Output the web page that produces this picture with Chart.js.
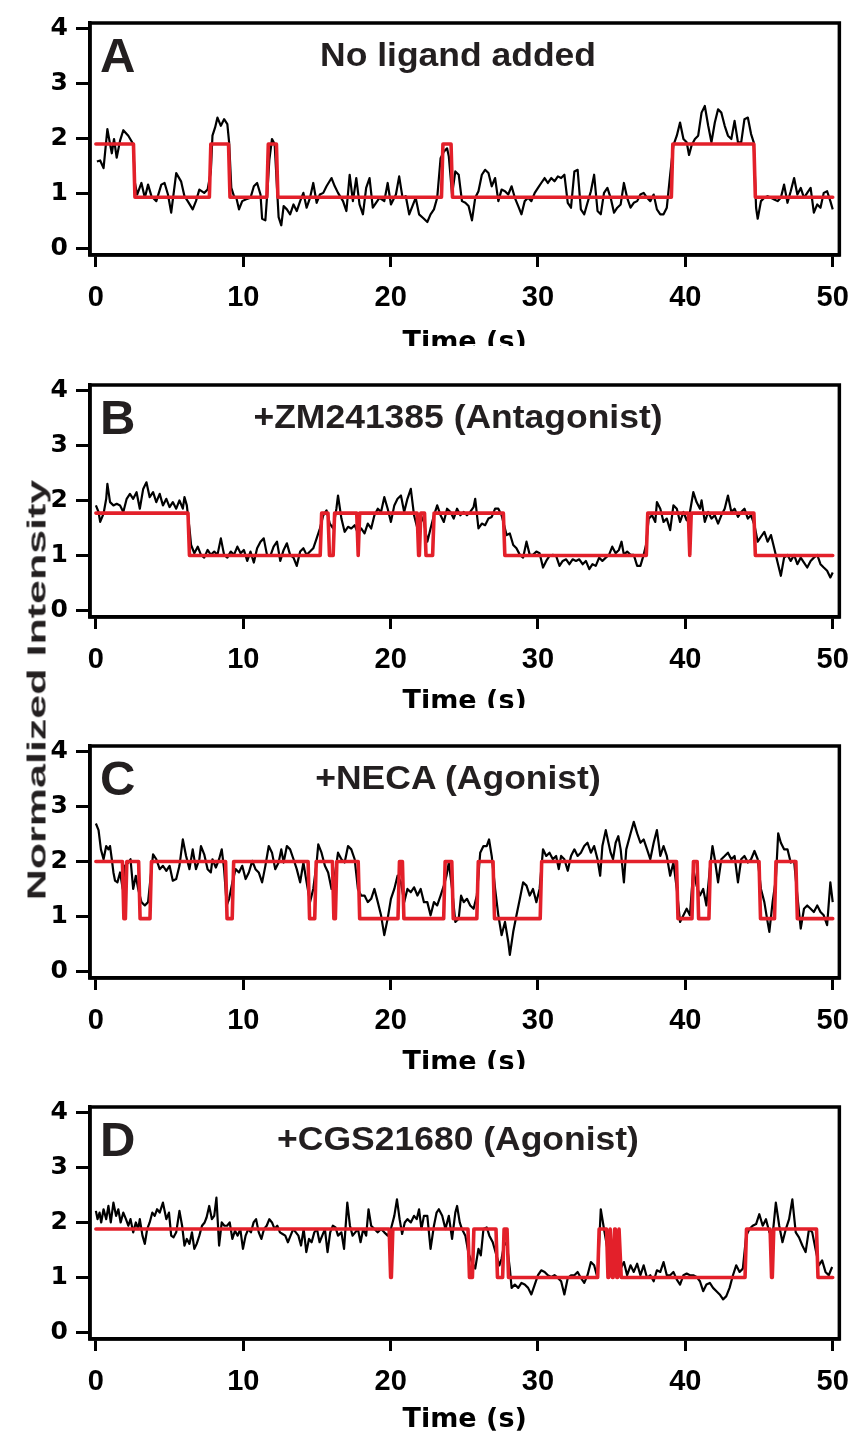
<!DOCTYPE html>
<html>
<head>
<meta charset="utf-8">
<script src="https://cdn.jsdelivr.net/npm/chart.js@4.4.1/dist/chart.umd.min.js"></script>
<style>
  html, body { margin: 0; padding: 0; background: #fff; overflow: hidden; }
  #wrap { position: relative; width: 863px; height: 1437px; overflow: hidden; background: #fff; }
  .panel { position: absolute; left: 0; width: 863px; overflow: hidden; }
  .panel canvas { position: absolute; left: 0; top: 0; }
  .letter { position: absolute; left: 100px; top: 31px; font-family: 'Liberation Sans', Arial, sans-serif; font-weight: bold; font-size: 49px; line-height: 1; color: #231f20; white-space: nowrap; }
  .title { position: absolute; left: 458px; top: 38px; font-family: 'Liberation Sans', Arial, sans-serif; font-weight: bold; font-size: 33px; line-height: 1; color: #231f20; white-space: nowrap; transform: translateX(-50%) scaleX(1.075); }
  #ytitle { position: absolute; left: 37px; top: 690px; font-family: 'Liberation Sans', Arial, sans-serif; font-weight: bold; font-size: 25px; line-height: 1; color: #231f20; white-space: nowrap; transform: translate(-50%, -50%) rotate(-90deg) scaleX(1.72); }
</style>
</head>
<body>
<div id="wrap"></div>
<script>
// ---------------- DATA ----------------
const xTickValues = [0, 10, 20, 30, 40, 50];
const yTickValues = [0, 1, 2, 3, 4];
const panelLetters = ['A', 'B', 'C', 'D'];
const panelTitles = ['No ligand added', '+ZM241385 (Antagonist)', '+NECA (Agonist)', '+CGS21680 (Agonist)'];
const xAxisTitle = 'Time (s)';
const yAxisTitle = 'Normalized Intensity';

// Raw intensity traces: [time (s), normalized intensity]
const traceA = [[0.07,1.58],[0.29,1.60],[0.52,1.46],[0.78,2.17],[0.96,1.90],[1.08,1.73],[1.23,1.99],[1.41,1.65],[1.64,1.96],[1.86,2.15],[2.20,2.05],[2.42,1.95],[2.53,1.90],[2.65,1.19],[2.80,0.98],[3.09,1.19],[3.32,0.92],[3.54,1.16],[3.77,0.95],[4.10,0.86],[4.44,1.16],[4.66,1.19],[4.89,0.98],[5.11,0.65],[5.45,1.37],[5.78,1.22],[6.01,0.95],[6.23,0.86],[6.57,0.71],[6.79,0.86],[7.02,1.07],[7.35,1.01],[7.58,1.07],[7.80,1.40],[7.91,2.05],[8.09,2.20],[8.25,2.38],[8.48,2.23],[8.70,2.35],[8.92,2.26],[9.04,1.93],[9.19,1.10],[9.37,0.95],[9.53,0.92],[9.71,0.71],[9.93,0.86],[10.16,0.89],[10.49,0.92],[10.72,1.13],[10.94,1.19],[11.17,0.98],[11.28,0.54],[11.50,0.51],[11.64,1.04],[11.77,1.61],[11.95,1.99],[12.13,1.90],[12.29,1.10],[12.40,0.57],[12.58,0.42],[12.74,0.77],[12.96,0.71],[13.18,0.62],[13.41,0.80],[13.63,0.68],[13.86,0.86],[14.08,1.01],[14.30,0.74],[14.53,0.92],[14.75,1.19],[14.98,0.83],[15.20,0.98],[15.43,1.01],[15.65,1.13],[15.99,1.28],[16.21,1.13],[16.43,1.01],[16.77,0.86],[17.00,0.68],[17.22,1.34],[17.44,0.86],[17.67,1.28],[17.89,0.80],[18.12,0.62],[18.34,1.10],[18.57,1.28],[18.79,0.74],[19.01,0.83],[19.24,0.92],[19.57,0.86],[19.80,1.19],[20.02,0.80],[20.36,0.98],[20.58,1.31],[20.81,0.92],[21.03,0.95],[21.26,0.62],[21.48,0.77],[21.70,0.92],[21.93,0.62],[22.26,0.54],[22.49,0.48],[22.71,0.62],[22.94,0.71],[23.16,0.92],[23.39,1.64],[23.61,1.76],[23.83,1.82],[23.95,1.67],[24.17,0.98],[24.39,1.40],[24.62,1.34],[24.84,0.86],[25.07,0.83],[25.29,0.77],[25.52,0.51],[25.74,0.92],[25.96,1.04],[26.19,1.34],[26.41,1.43],[26.64,1.37],[26.86,1.13],[27.09,1.28],[27.31,0.86],[27.53,1.07],[27.76,1.04],[27.98,0.98],[28.21,1.13],[28.43,0.92],[28.66,0.77],[28.88,0.62],[29.10,0.86],[29.33,0.92],[29.55,0.86],[29.78,1.01],[30.00,1.10],[30.22,1.19],[30.45,1.28],[30.67,1.19],[30.90,1.28],[31.12,1.22],[31.35,1.31],[31.57,1.28],[31.79,1.34],[32.02,0.83],[32.24,0.74],[32.47,1.40],[32.69,1.43],[32.91,0.71],[33.14,0.62],[33.36,0.83],[33.59,1.04],[33.81,1.34],[34.04,0.68],[34.26,0.62],[34.48,1.01],[34.71,1.10],[34.93,0.92],[35.16,0.65],[35.38,0.74],[35.61,0.80],[35.83,1.19],[36.05,0.92],[36.28,0.74],[36.50,0.83],[36.73,0.86],[36.95,0.98],[37.17,1.01],[37.40,0.92],[37.62,0.86],[37.85,0.98],[38.07,0.71],[38.30,0.62],[38.52,0.62],[38.74,0.74],[38.97,1.34],[39.19,1.88],[39.42,2.05],[39.64,2.29],[39.87,1.99],[40.09,1.93],[40.25,1.70],[40.43,1.88],[40.65,1.99],[40.87,2.05],[41.10,2.47],[41.32,2.59],[41.55,2.23],[41.77,1.93],[42.00,2.29],[42.22,2.53],[42.44,2.47],[42.67,2.23],[42.89,2.05],[43.12,1.99],[43.34,2.32],[43.57,1.93],[43.79,1.93],[44.01,2.35],[44.24,2.38],[44.46,2.08],[44.64,1.93],[44.80,0.74],[44.91,0.54],[45.13,0.86],[45.36,0.92],[45.58,0.95],[45.81,0.92],[46.03,0.89],[46.26,0.86],[46.48,0.92],[46.70,1.16],[46.93,0.83],[47.15,1.04],[47.38,1.28],[47.60,0.98],[47.83,1.10],[48.05,0.92],[48.27,1.01],[48.50,1.10],[48.72,0.65],[48.95,0.80],[49.17,0.74],[49.39,1.01],[49.62,1.04],[49.84,0.86],[50.00,0.71]];

const traceB = [[0.00,1.91],[0.18,1.79],[0.29,1.61],[0.52,1.76],[0.70,2.03],[0.78,2.30],[0.96,1.97],[1.19,1.91],[1.41,1.94],[1.64,1.91],[1.86,1.79],[2.09,2.03],[2.31,2.12],[2.53,2.03],[2.76,2.15],[2.98,1.85],[3.21,2.21],[3.43,2.33],[3.65,2.06],[3.88,2.15],[4.10,1.97],[4.33,2.12],[4.55,1.91],[4.78,2.03],[5.00,1.88],[5.22,1.97],[5.45,1.85],[5.67,2.00],[5.90,1.85],[6.01,2.06],[6.17,1.91],[6.35,1.49],[6.46,1.19],[6.68,1.04],[6.91,1.16],[7.13,1.01],[7.35,0.96],[7.58,1.10],[7.80,1.01],[8.03,1.07],[8.25,1.01],[8.48,1.31],[8.70,1.01],[8.92,0.96],[9.15,1.07],[9.37,1.01],[9.60,1.16],[9.82,1.04],[10.04,1.10],[10.27,0.90],[10.49,1.07],[10.72,0.87],[10.94,1.13],[11.17,1.25],[11.39,1.31],[11.61,1.01],[11.84,0.99],[12.06,1.16],[12.29,1.25],[12.51,0.90],[12.74,1.10],[12.96,1.22],[13.18,1.01],[13.41,0.96],[13.63,0.81],[13.86,1.07],[14.08,1.13],[14.30,1.01],[14.53,1.07],[14.75,1.13],[14.98,1.31],[15.20,1.49],[15.43,1.73],[15.65,1.82],[15.87,1.58],[16.10,1.49],[16.32,1.85],[16.43,2.09],[16.66,1.67],[16.88,1.43],[17.11,1.52],[17.33,1.49],[17.56,1.55],[17.78,1.40],[18.00,1.49],[18.23,1.40],[18.45,1.58],[18.68,1.49],[18.90,1.73],[19.13,1.85],[19.35,1.79],[19.57,2.06],[19.80,1.85],[20.02,1.61],[20.25,1.91],[20.47,2.03],[20.70,2.09],[20.92,1.79],[21.14,2.03],[21.37,2.21],[21.59,1.73],[21.82,1.49],[22.04,1.73],[22.26,1.61],[22.49,1.25],[22.71,1.49],[22.94,1.73],[23.16,1.91],[23.39,1.73],[23.61,1.61],[23.83,1.85],[24.06,1.79],[24.28,1.67],[24.51,1.85],[24.73,1.73],[24.96,1.79],[25.18,1.73],[25.40,1.79],[25.63,1.88],[25.74,2.03],[25.96,1.49],[26.19,1.58],[26.41,1.55],[26.64,1.67],[26.86,1.70],[27.09,1.85],[27.31,1.85],[27.53,1.73],[27.87,1.37],[28.09,1.40],[28.32,1.19],[28.54,1.13],[28.77,1.01],[28.99,0.96],[29.22,1.25],[29.44,1.01],[29.66,1.01],[29.89,1.07],[30.11,1.04],[30.34,0.78],[30.56,0.90],[30.78,0.99],[31.01,1.01],[31.23,0.99],[31.46,0.81],[31.68,0.90],[31.91,0.93],[32.13,0.84],[32.35,0.93],[32.58,0.90],[32.80,0.93],[33.03,0.84],[33.25,0.90],[33.48,0.75],[33.70,0.84],[33.92,0.81],[34.15,0.96],[34.37,0.90],[34.60,0.96],[34.82,1.01],[35.04,1.16],[35.27,1.04],[35.49,1.10],[35.67,1.25],[35.83,1.01],[36.05,1.07],[36.28,1.01],[36.50,1.01],[36.73,0.81],[36.95,0.81],[37.17,1.01],[37.33,1.19],[37.51,1.67],[37.74,1.73],[37.96,1.61],[38.07,1.97],[38.30,1.85],[38.52,1.61],[38.74,1.67],[38.97,1.46],[39.19,1.91],[39.42,1.85],[39.64,1.61],[39.87,1.79],[40.09,1.64],[40.31,1.79],[40.54,2.15],[40.76,1.97],[40.99,1.85],[41.10,2.00],[41.32,1.61],[41.55,1.79],[41.77,1.67],[42.00,1.73],[42.22,1.58],[42.44,1.73],[42.67,1.85],[42.89,2.09],[43.12,1.79],[43.34,1.85],[43.57,1.70],[43.79,1.79],[44.01,1.85],[44.24,1.67],[44.46,1.73],[44.69,1.55],[44.91,1.25],[45.13,1.34],[45.36,1.43],[45.58,1.25],[45.81,1.37],[46.03,1.13],[46.26,0.87],[46.48,0.63],[46.70,0.96],[46.93,1.01],[47.15,0.90],[47.38,1.01],[47.60,0.84],[47.83,0.96],[48.05,0.87],[48.27,0.78],[48.50,0.90],[48.72,0.96],[48.95,1.01],[49.17,0.84],[49.39,0.78],[49.62,0.72],[49.84,0.60],[50.00,0.69]];

const traceC = [[0.00,2.69],[0.18,2.57],[0.34,2.22],[0.52,2.04],[0.70,2.28],[0.85,2.22],[0.96,2.28],[1.08,2.04],[1.19,1.80],[1.30,1.65],[1.46,1.62],[1.64,1.80],[1.82,1.50],[1.97,1.92],[2.20,1.98],[2.35,2.04],[2.53,1.50],[2.71,1.74],[2.87,1.50],[3.09,1.26],[3.32,1.20],[3.54,1.26],[3.70,1.68],[3.88,2.13],[4.10,2.04],[4.33,1.86],[4.55,1.92],[4.78,1.83],[5.00,1.92],[5.22,1.65],[5.45,1.68],[5.67,1.92],[5.90,2.40],[6.12,2.10],[6.35,1.86],[6.57,2.22],[6.79,1.86],[7.02,2.04],[7.13,2.28],[7.35,2.13],[7.58,1.86],[7.80,1.80],[7.91,2.04],[8.14,1.89],[8.36,2.04],[8.54,2.22],[8.70,1.86],[8.88,1.20],[9.04,1.32],[9.26,1.62],[9.48,1.86],[9.71,1.80],[9.93,1.92],[10.16,1.68],[10.38,1.80],[10.61,2.01],[10.83,1.86],[11.05,1.80],[11.28,1.62],[11.50,1.92],[11.73,2.28],[11.95,2.16],[12.17,1.86],[12.40,1.98],[12.58,2.22],[12.74,1.98],[12.96,2.28],[13.18,2.22],[13.41,2.04],[13.63,1.86],[13.86,1.62],[14.08,1.98],[14.30,1.62],[14.53,1.26],[14.75,1.50],[14.98,1.98],[15.09,2.31],[15.31,2.16],[15.54,1.92],[15.76,1.80],[15.99,1.50],[16.21,1.74],[16.43,2.16],[16.66,2.04],[16.88,1.98],[17.11,2.28],[17.33,2.22],[17.56,2.04],[17.78,1.50],[18.00,1.38],[18.23,1.38],[18.45,1.26],[18.68,1.32],[18.90,1.50],[19.13,1.26],[19.35,1.02],[19.57,0.66],[19.80,0.96],[20.02,1.32],[20.25,1.50],[20.47,1.74],[20.70,1.62],[20.92,1.26],[21.14,1.50],[21.37,1.44],[21.59,1.53],[21.82,1.38],[22.04,1.50],[22.26,1.26],[22.49,1.26],[22.71,1.02],[22.94,1.26],[23.16,1.20],[23.39,1.38],[23.61,1.56],[23.79,1.74],[23.95,1.98],[24.17,1.50],[24.39,0.90],[24.62,0.96],[24.78,1.38],[24.96,1.26],[25.18,1.32],[25.40,1.20],[25.63,1.14],[25.85,1.38],[26.08,2.16],[26.30,2.28],[26.52,2.28],[26.68,2.40],[26.86,2.10],[27.09,1.50],[27.31,1.02],[27.53,0.66],[27.76,0.90],[27.98,0.54],[28.09,0.30],[28.32,0.72],[28.54,1.02],[28.77,1.32],[28.99,1.62],[29.22,1.56],[29.44,1.38],[29.66,1.50],[29.89,1.26],[30.11,1.50],[30.34,2.22],[30.56,2.10],[30.78,2.16],[31.01,2.04],[31.23,2.10],[31.41,1.86],[31.57,2.10],[31.79,2.04],[32.02,1.83],[32.24,2.10],[32.47,2.22],[32.69,2.10],[32.91,2.16],[33.14,2.28],[33.36,2.34],[33.59,2.16],[33.81,2.28],[34.04,2.04],[34.22,1.74],[34.37,2.28],[34.60,2.57],[34.78,2.34],[34.93,2.16],[35.09,2.04],[35.27,2.34],[35.45,2.46],[35.61,2.22],[35.83,1.62],[35.99,2.22],[36.28,2.51],[36.50,2.72],[36.73,2.51],[36.95,2.34],[37.17,2.40],[37.40,2.22],[37.62,2.04],[37.85,2.34],[38.07,2.57],[38.30,2.10],[38.52,2.28],[38.74,2.10],[38.97,1.74],[39.19,1.98],[39.42,1.50],[39.64,0.90],[39.87,1.02],[40.09,1.14],[40.31,1.02],[40.54,1.86],[40.76,1.56],[40.99,1.38],[41.21,1.50],[41.43,1.20],[41.66,1.86],[41.84,2.28],[42.00,2.04],[42.22,1.62],[42.44,2.04],[42.67,2.10],[42.89,2.16],[43.12,2.04],[43.34,2.10],[43.57,1.62],[43.79,2.04],[44.01,2.10],[44.24,1.98],[44.46,2.04],[44.69,2.19],[44.91,2.04],[45.13,1.50],[45.36,1.26],[45.58,0.90],[45.70,0.72],[45.92,1.26],[46.14,1.68],[46.30,2.51],[46.48,2.34],[46.70,2.22],[46.93,2.22],[47.15,1.98],[47.38,2.01],[47.60,1.38],[47.83,0.78],[48.05,1.14],[48.27,1.20],[48.50,1.14],[48.72,1.08],[48.95,1.20],[49.17,1.08],[49.39,1.02],[49.62,0.84],[49.84,1.62],[50.00,1.26]];

const traceD = [[0.00,2.21],[0.11,2.06],[0.25,2.18],[0.36,2.00],[0.52,2.24],[0.70,2.06],[0.85,2.30],[1.01,2.00],[1.19,2.36],[1.37,2.12],[1.52,2.24],[1.68,2.00],[1.86,2.18],[2.04,2.06],[2.20,1.94],[2.35,2.06],[2.53,1.82],[2.71,2.00],[2.87,1.88],[2.98,2.06],[3.16,1.76],[3.32,1.61],[3.48,1.88],[3.65,2.00],[3.83,2.18],[3.99,2.12],[4.15,2.24],[4.33,2.18],[4.55,2.36],[4.78,2.06],[4.96,2.18],[5.11,1.76],[5.27,1.73],[5.45,1.82],[5.67,2.21],[5.85,1.94],[6.01,1.58],[6.17,1.70],[6.35,1.61],[6.52,1.82],[6.68,1.52],[6.84,1.61],[7.02,1.76],[7.20,1.94],[7.38,2.00],[7.51,2.09],[7.69,2.30],[7.87,2.06],[8.03,2.12],[8.18,2.45],[8.36,1.58],[8.54,2.00],[8.72,1.94],[8.90,1.94],[9.08,2.00],[9.26,1.70],[9.44,1.85],[9.62,1.76],[9.80,1.88],[9.98,1.52],[10.16,1.76],[10.34,1.88],[10.52,1.82],[10.70,2.00],[10.87,2.06],[11.05,1.82],[11.23,1.70],[11.41,1.88],[11.59,1.94],[11.77,2.06],[11.95,2.00],[12.13,1.88],[12.31,1.94],[12.49,1.82],[12.67,1.79],[12.85,1.76],[13.03,1.64],[13.21,1.76],[13.39,1.88],[13.57,1.82],[13.74,1.76],[13.92,1.58],[14.10,1.88],[14.28,1.46],[14.46,1.70],[14.64,1.64],[14.82,1.82],[15.00,1.88],[15.18,1.64],[15.36,1.76],[15.54,1.88],[15.72,1.46],[15.90,1.82],[16.08,1.94],[16.26,1.91],[16.43,1.76],[16.66,1.82],[16.84,1.52],[17.06,2.36],[17.24,1.94],[17.42,1.76],[17.60,1.82],[17.78,1.88],[17.96,1.64],[18.14,1.88],[18.34,1.76],[18.50,2.24],[18.68,1.94],[18.90,1.88],[19.13,1.82],[19.35,1.88],[19.57,1.82],[19.80,1.76],[20.02,1.88],[20.25,2.12],[20.43,2.42],[20.61,2.06],[20.78,1.79],[20.96,2.00],[21.14,2.06],[21.37,2.00],[21.59,2.12],[21.77,2.06],[21.93,2.24],[22.09,1.88],[22.26,2.12],[22.49,2.12],[22.71,1.52],[22.94,1.94],[23.12,2.18],[23.27,2.24],[23.50,2.12],[23.72,1.88],[23.95,2.12],[24.17,1.70],[24.39,2.18],[24.51,2.30],[24.69,2.00],[24.84,1.88],[25.07,1.76],[25.29,1.43],[25.52,1.28],[25.74,1.16],[25.96,1.52],[26.12,1.40],[26.30,1.88],[26.52,1.91],[26.70,1.76],[26.93,1.64],[27.15,1.43],[27.38,1.22],[27.53,1.34],[27.69,1.58],[27.87,1.64],[28.09,1.16],[28.21,0.81],[28.43,0.87],[28.66,0.81],[28.88,0.90],[29.10,0.87],[29.33,0.81],[29.55,0.69],[29.78,0.87],[30.00,1.04],[30.22,1.13],[30.45,1.10],[30.67,1.04],[30.90,1.01],[31.12,1.04],[31.35,0.99],[31.57,0.93],[31.79,0.69],[32.02,0.99],[32.24,1.04],[32.47,1.04],[32.69,1.10],[32.91,0.99],[33.14,0.90],[33.36,1.04],[33.59,1.28],[33.81,1.22],[34.04,0.99],[34.26,2.24],[34.48,1.88],[34.71,1.52],[34.93,1.28],[35.16,1.16],[35.38,1.40],[35.61,1.16],[35.83,1.28],[36.05,1.04],[36.28,1.22],[36.50,1.10],[36.73,1.25],[36.95,1.04],[37.17,1.22],[37.40,0.99],[37.62,1.04],[37.85,0.93],[38.07,1.13],[38.30,1.10],[38.52,1.28],[38.74,1.04],[38.97,1.04],[39.19,1.10],[39.42,0.96],[39.64,0.87],[39.87,1.04],[40.09,1.07],[40.31,1.04],[40.54,1.04],[40.76,1.01],[40.99,0.93],[41.21,0.75],[41.43,0.87],[41.66,0.90],[41.88,0.81],[42.11,0.75],[42.33,0.69],[42.56,0.60],[42.78,0.66],[43.00,0.81],[43.23,1.04],[43.45,1.22],[43.68,1.10],[43.90,1.16],[44.13,1.76],[44.35,1.88],[44.57,1.94],[44.80,1.97],[45.02,2.15],[45.25,1.94],[45.47,2.06],[45.70,1.82],[45.92,1.76],[46.14,2.36],[46.37,1.94],[46.59,1.64],[46.82,1.88],[47.04,2.06],[47.26,2.42],[47.49,1.82],[47.71,1.73],[47.94,1.58],[48.16,1.46],[48.39,1.88],[48.61,1.82],[48.83,1.52],[49.06,1.22],[49.28,1.31],[49.51,1.10],[49.73,1.04],[49.96,1.19]];

// Step-fit (idealized states): transition times (s) and level of each dwell
const fitStepsA  = [2.6, 7.75, 9.05, 11.65, 12.3, 23.5, 24.15, 39.1, 44.7];
const fitLevelsA = [1.9, 0.93, 1.9, 0.93, 1.9, 0.93, 1.9, 0.93, 1.9, 0.93];

const fitStepsB  = [6.3, 15.27, 15.8, 16.15, 17.75, 17.85, 21.85, 22.0, 22.35, 22.9, 27.7, 37.4, 40.25, 40.35, 44.7];
const fitLevelsB = [1.77, 1.0, 1.77, 1.0, 1.77, 1.0, 1.77, 1.0, 1.77, 1.0, 1.77, 1.0, 1.77, 1.0, 1.77, 1.0];

const fitStepsC  = [1.85, 2.05, 2.95, 3.72, 8.85, 9.3, 14.45, 14.9, 16.1, 16.3, 17.85, 20.55, 20.85, 23.65, 24.2, 25.9, 27.0, 30.2, 39.45, 40.5, 40.85, 41.65, 45.05, 46.1, 47.55];
const fitLevelsC = [2.0, 0.96, 2.0, 0.96, 2.0, 0.96, 2.0, 0.96, 2.0, 0.96, 2.0, 0.96, 2.0, 0.96, 2.0, 0.96, 2.0, 0.96, 2.0, 0.96, 2.0, 0.96, 2.0, 0.96, 2.0, 0.96];

const fitStepsD  = [19.95, 20.1, 25.3, 25.6, 27.2, 27.65, 27.95, 34.1, 34.7, 34.85, 35.0, 35.15, 35.3, 35.45, 35.6, 44.1, 45.8, 45.95, 48.95];
const fitLevelsD = [1.88, 1.0, 1.88, 1.0, 1.88, 1.0, 1.88, 1.0, 1.88, 1.0, 1.88, 1.0, 1.88, 1.0, 1.88, 1.0, 1.88, 1.0, 1.88, 1.0];

const timeStart = 0, timeEnd = 50;

// ---------------- BUILD ----------------
function buildFit(steps, levels) {
  const bounds = [timeStart, ...steps, timeEnd];
  const ramp = 0.1;
  const pts = [];
  for (let i = 0; i < levels.length; i++) {
    const s = bounds[i], e = bounds[i + 1];
    const a = i === 0 ? s : s + ramp / 2;
    const b = i === levels.length - 1 ? e : e - ramp / 2;
    if (b > a) { pts.push({x: a, y: levels[i]}); pts.push({x: b, y: levels[i]}); }
    else { pts.push({x: (s + e) / 2, y: levels[i]}); }
  }
  return pts;
}
const toXY = arr => arr.map(p => ({x: p[0], y: p[1]}));

const panels = [
  {trace: traceA, steps: fitStepsA, levels: fitLevelsA, top: 0,    height: 346, titlePad: 1},
  {trace: traceB, steps: fitStepsB, levels: fitLevelsB, top: 362,  height: 346, titlePad: 4},
  {trace: traceC, steps: fitStepsC, levels: fitLevelsC, top: 723,  height: 346, titlePad: 4},
  {trace: traceD, steps: fitStepsD, levels: fitLevelsD, top: 1084, height: 353, titlePad: 8}
];

const framePlugin = {
  id: 'frame',
  afterDatasetsDraw(chart) {
    const {ctx, chartArea: {left, top, right, bottom}} = chart;
    ctx.save();
    ctx.strokeStyle = '#000';
    ctx.lineWidth = 3.5;
    ctx.strokeRect(left, top, right - left, bottom - top);
    ctx.restore();
  }
};

const wrap = document.getElementById('wrap');
const CANVAS_H = 360;

panels.forEach((p, idx) => {
  const div = document.createElement('div');
  div.className = 'panel';
  div.style.top = p.top + 'px';
  div.style.height = p.height + 'px';
  const canvas = document.createElement('canvas');
  canvas.width = 863; canvas.height = CANVAS_H;
  canvas.style.width = '863px'; canvas.style.height = CANVAS_H + 'px';
  div.appendChild(canvas);
  const letter = document.createElement('div');
  letter.className = 'letter'; letter.textContent = panelLetters[idx];
  div.appendChild(letter);
  const title = document.createElement('div');
  title.className = 'title'; title.textContent = panelTitles[idx];
  div.appendChild(title);
  wrap.appendChild(div);

  new Chart(canvas.getContext('2d'), {
    type: 'line',
    data: {
      datasets: [
        { label: 'fit', data: buildFit(p.steps, p.levels), borderColor: '#e3202a', borderWidth: 3.6,
          pointRadius: 0, tension: 0, fill: false, borderJoinStyle: 'round', borderCapStyle: 'round' },
        { label: 'trace', data: toXY(p.trace), borderColor: '#000', borderWidth: 2.2,
          pointRadius: 0, tension: 0, fill: false, borderJoinStyle: 'round' }
      ]
    },
    options: {
      responsive: false,
      animation: false,
      events: [],
      layout: { padding: { left: 0, right: 17, top: 19, bottom: 0 } },
      plugins: { legend: { display: false }, tooltip: { enabled: false }, title: { display: false } },
      scales: {
        x: {
          type: 'linear', min: -0.4, max: 50.45,
          afterBuildTicks: s => { s.ticks = xTickValues.map(v => ({value: v})); },
          afterFit: s => { s.height = CANVAS_H - 255; },
          grid: { drawOnChartArea: false, drawTicks: true, tickLength: 12, tickWidth: 3, color: '#000' },
          border: { display: true, color: '#000', width: 3.5 },
          ticks: { color: '#000', padding: 14, maxRotation: 0, autoSkip: false,
                   font: { family: "'Liberation Sans', Arial, sans-serif", size: 29, weight: 'bold' } },
          title: { display: true, text: xAxisTitle, color: '#000', padding: { top: 0, bottom: p.titlePad },
                   font: { family: "'DejaVu Sans', sans-serif", size: 27, weight: 'bold' } }
        },
        y: {
          type: 'linear', min: -0.12, max: 4.1,
          afterBuildTicks: s => { s.ticks = yTickValues.map(v => ({value: v})); },
          afterFit: s => { s.width = 90; },
          grid: { drawOnChartArea: false, drawTicks: true, tickLength: 14, tickWidth: 3, color: '#000' },
          border: { display: true, color: '#000', width: 3.5 },
          ticks: { color: '#000', padding: 8, autoSkip: false,
                   font: { family: "'DejaVu Sans', sans-serif", size: 25, weight: 'bold' } }
        }
      }
    },
    plugins: [framePlugin]
  });
});

const yt = document.createElement('div');
yt.id = 'ytitle';
yt.textContent = yAxisTitle;
wrap.appendChild(yt);
</script>
</body>
</html>
